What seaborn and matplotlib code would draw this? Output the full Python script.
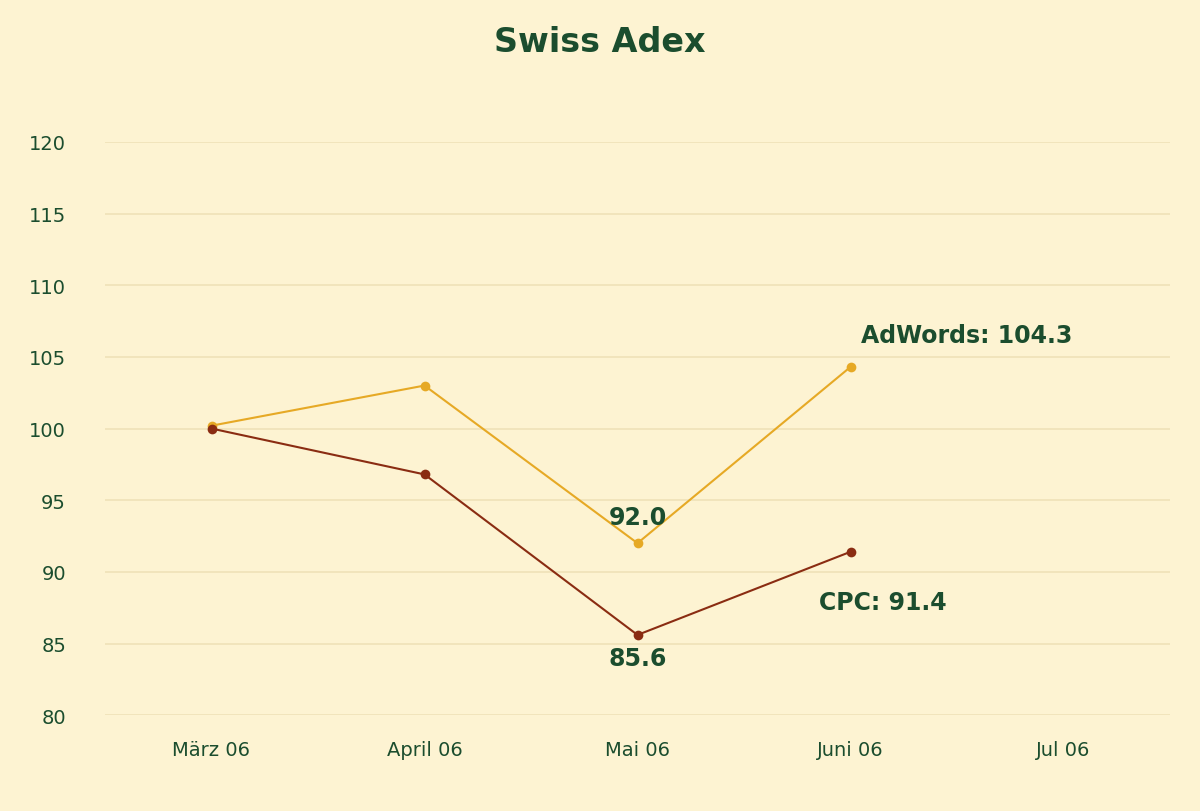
import matplotlib
matplotlib.use("Agg")
import matplotlib.pyplot as plt
import seaborn as sns
import pandas as pd

months = ["März 06", "April 06", "Mai 06", "Juni 06", "Jul 06"]
adwords = [100.2, 103.0, 92.0, 104.3]
cpc = [100.0, 96.8, 85.6, 91.4]
yticks = [80, 85, 90, 95, 100, 105, 110, 115, 120]

bg = "#fdf3d2"
green = "#1b4d2e"
sns.set_theme(style="white")
plt.rcParams["font.family"] = ["DejaVu Sans"]

df = pd.DataFrame({
    "x": list(range(len(adwords))) * 2,
    "value": adwords + cpc,
    "series": ["AdWords"] * len(adwords) + ["CPC"] * len(cpc),
})

fig = plt.figure(figsize=(12, 8.12), dpi=100, facecolor=bg)
ax = fig.add_axes([0.0875, 0.118, 0.8875, 0.706])
ax.set_facecolor(bg)
sns.lineplot(data=df, x="x", y="value", hue="series",
             palette={"AdWords": "#e6a925", "CPC": "#8a2c12"},
             marker="o", markersize=7, markeredgewidth=0, linewidth=1.5,
             legend=False, ax=ax)

ax.set_xlim(-0.5, 4.5)
ax.set_ylim(80, 120)
ax.set_yticks(yticks)
ax.set_xticks(range(len(months)))
ax.set_xticklabels(months)
ax.yaxis.grid(True, color="#efe2b8", linewidth=1.2)
ax.tick_params(axis="both", colors=green, labelsize=14, length=0)
ax.tick_params(axis="x", pad=18)
ax.tick_params(axis="y", pad=28)
for s in ax.spines.values():
    s.set_visible(False)
ax.set_xlabel("")
ax.set_ylabel("")

kw = dict(color=green, fontsize=17, fontweight="bold")
ax.text(3.05, 105.7, f"AdWords: {adwords[3]}", ha="left", va="bottom", **kw)
ax.text(2.0, 93.0, f"{adwords[2]:.1f}", ha="center", va="bottom", **kw)
ax.text(2.0, 84.8, f"{cpc[2]:.1f}", ha="center", va="top", **kw)
ax.text(2.85, 88.7, f"CPC: {cpc[3]}", ha="left", va="top", **kw)

fig.text(0.5, 0.948, "Swiss Adex", ha="center", va="center",
         color=green, fontsize=24, fontweight="bold")

fig.savefig("out.png", dpi=100, facecolor=bg)
